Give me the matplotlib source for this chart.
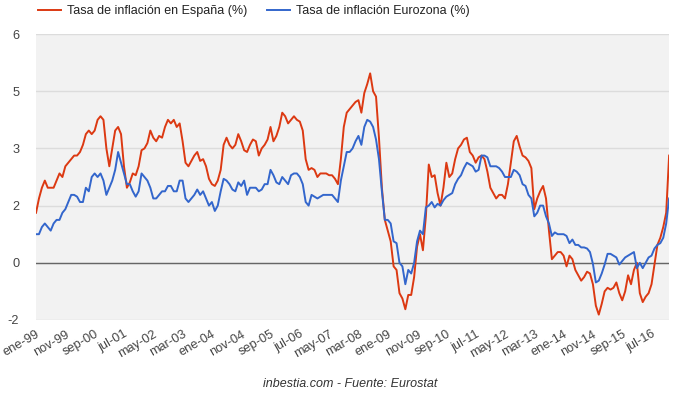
import numpy as np
import pandas as pd
import matplotlib
matplotlib.use('Agg')
import matplotlib.pyplot as plt

# monthly annual inflation rates (%), ene-99 .. ene-17
espana = (
    [1.4, 1.8, 2.1, 2.3, 2.1, 2.1, 2.1, 2.3, 2.5, 2.4, 2.7, 2.8] +       # 1999
    [2.9, 3.0, 3.0, 3.1, 3.3, 3.6, 3.7, 3.6, 3.7, 4.0, 4.1, 4.0] +       # 2000
    [3.2, 2.7, 3.2, 3.7, 3.8, 3.6, 2.7, 2.1, 2.25, 2.5, 2.45, 2.7] +     # 2001
    [3.15, 3.2, 3.35, 3.7, 3.5, 3.4, 3.55, 3.5, 3.8, 4.0, 3.9, 4.0] +    # 2002
    [3.8, 3.9, 3.4, 2.8, 2.7, 2.85, 3.0, 3.1, 2.85, 2.9, 2.7, 2.35] +    # 2003
    [2.2, 2.15, 2.3, 2.6, 3.3, 3.5, 3.3, 3.2, 3.3, 3.6, 3.4, 3.15] +     # 2004
    [3.1, 3.3, 3.45, 3.4, 3.0, 3.2, 3.3, 3.45, 3.8, 3.4, 3.55, 3.8] +    # 2005
    [4.2, 4.1, 3.9, 4.0, 4.1, 4.0, 3.95, 3.7, 2.9, 2.6, 2.65, 2.6] +     # 2006
    [2.4, 2.5, 2.5, 2.5, 2.45, 2.45, 2.35, 2.2, 2.9, 3.8, 4.2, 4.3] +    # 2007
    [4.4, 4.5, 4.55, 4.2, 4.75, 5.0, 5.3, 4.8, 4.65, 3.5, 2.1, 1.2] +    # 2008
    [0.9, 0.6, -0.1, -0.2, -0.85, -1.0, -1.3, -0.9, -0.9, -0.4, 0.45, 0.8] +  # 2009
    [0.35, 1.3, 2.75, 2.4, 2.45, 1.95, 1.6, 2.1, 2.8, 2.4, 2.5, 2.9] +   # 2010
    [3.2, 3.3, 3.45, 3.5, 3.1, 3.0, 2.8, 2.95, 3.0, 2.9, 2.55, 2.1] +    # 2011
    [1.95, 1.8, 1.9, 1.9, 1.8, 2.2, 2.8, 3.4, 3.55, 3.25, 3.0, 2.95] +   # 2012
    [2.85, 2.65, 1.5, 1.8, 2.0, 2.15, 1.8, 0.9, 0.1, 0.2, 0.3, 0.3] +    # 2013
    [0.2, -0.1, 0.2, 0.1, -0.2, -0.35, -0.5, -0.4, -0.25, -0.3, -0.6, -1.2] +  # 2014
    [-1.45, -1.15, -0.8, -0.7, -0.75, -0.7, -0.55, -0.85, -1.05, -0.8, -0.35, -0.6] +  # 2015
    [-0.2, 0.0, -0.85, -1.1, -0.95, -0.85, -0.6, -0.05, 0.5, 0.7, 1.0, 1.4] +  # 2016
    [3.0]                                                                # 2017
)

eurozona = (
    [0.8, 0.8, 1.0, 1.1, 1.0, 0.9, 1.1, 1.2, 1.2, 1.4, 1.5, 1.7] +
    [1.9, 1.9, 1.85, 1.7, 1.7, 2.1, 2.0, 2.4, 2.5, 2.4, 2.5, 2.3] +
    [1.9, 2.1, 2.3, 2.6, 3.1, 2.8, 2.5, 2.2, 2.2, 2.0, 1.85, 2.0] +
    [2.5, 2.4, 2.3, 2.1, 1.8, 1.8, 1.9, 2.0, 2.0, 2.15, 2.15, 2.0] +
    [2.0, 2.3, 2.3, 1.8, 1.7, 1.8, 1.9, 2.05, 1.9, 2.0, 1.8, 1.6] +
    [1.7, 1.45, 1.6, 2.0, 2.35, 2.3, 2.2, 2.05, 2.0, 2.25, 2.15, 2.3] +
    [1.9, 2.1, 2.1, 2.1, 2.0, 2.05, 2.2, 2.2, 2.6, 2.45, 2.25, 2.2] +
    [2.4, 2.3, 2.2, 2.45, 2.5, 2.5, 2.4, 2.2, 1.7, 1.6, 1.9, 1.85] +
    [1.8, 1.85, 1.9, 1.9, 1.9, 1.9, 1.8, 1.7, 2.3, 2.7, 3.1, 3.1] +
    [3.2, 3.4, 3.55, 3.3, 3.8, 4.0, 3.95, 3.8, 3.45, 2.9, 2.0, 1.2] +
    [1.2, 1.1, 0.6, 0.55, 0.0, -0.1, -0.6, -0.2, -0.3, 0.0, 0.6, 0.9] +
    [0.8, 1.55, 1.6, 1.7, 1.55, 1.65, 1.6, 1.75, 1.85, 1.9, 1.95, 2.2] +
    [2.35, 2.45, 2.65, 2.8, 2.75, 2.7, 2.55, 2.6, 3.0, 3.0, 2.95, 2.7] +
    [2.7, 2.7, 2.65, 2.55, 2.4, 2.4, 2.4, 2.6, 2.55, 2.45, 2.2, 2.15] +
    [1.9, 1.8, 1.3, 1.4, 1.6, 1.6, 1.3, 1.1, 0.75, 0.85, 0.8, 0.8] +
    [0.8, 0.75, 0.55, 0.65, 0.5, 0.5, 0.43, 0.43, 0.4, 0.3, -0.03, -0.55] +
    [-0.5, -0.3, -0.05, 0.25, 0.25, 0.2, 0.15, -0.05, 0.05, 0.15, 0.2, 0.25] +
    [0.3, -0.15, 0.0, -0.15, 0.0, 0.15, 0.2, 0.4, 0.5, 0.55, 0.7, 1.1] +
    [1.8]
)

meses = ['ene', 'feb', 'mar', 'abr', 'may', 'jun',
         'jul', 'ago', 'sep', 'oct', 'nov', 'dic']
fechas = pd.date_range('1999-01-01', periods=len(espana), freq='MS')
etiquetas = ['%s-%02d' % (meses[d.month - 1], d.year % 100) for d in fechas]

# gridlines sit every 1.6 points, labels shown rounded
y_ticks = [-1.6, 0, 1.6, 3.2, 4.8, 6.4]
y_labels = ['-2', '0', '2', '3', '5', '6']

plt.rcParams['font.family'] = ['Liberation Sans', 'DejaVu Sans']

fig = plt.figure(figsize=(6.8, 3.96), dpi=100)
ax = fig.add_axes([0.053, 0.192, 0.931, 0.722])
ax.set_facecolor('#f2f2f2')

x = np.arange(len(espana))
ax.plot(x, espana, color='#dc3912', lw=1.4, label='Tasa de inflación en España (%)', zorder=3)
ax.plot(x, eurozona, color='#3366cc', lw=1.4, label='Tasa de inflación Eurozona (%)', zorder=3)
ax.axhline(0, color='#666666', lw=1, zorder=2)

ax.set_xlim(0, len(espana) - 1)
ax.set_ylim(-1.6, 6.4)
ax.set_yticks(y_ticks)
ax.set_yticklabels(y_labels)
ax.grid(axis='y', color='#dcdcdc', lw=1)
ax.set_axisbelow(True)

xt = x[::10][:22]
ax.set_xticks(xt)
ax.set_xticklabels([etiquetas[i] for i in xt], rotation=30, ha='right',
                   rotation_mode='anchor')
ax.tick_params(axis='both', length=0, labelsize=9.2, colors='#444444')
ax.tick_params(axis='y', pad=12)
ax.tick_params(axis='x', pad=6)
for s in ax.spines.values():
    s.set_visible(False)

fig.legend(loc='upper left', bbox_to_anchor=(0.04, 1.015), ncol=2, frameon=False,
           fontsize=9, handlelength=1.8, handletextpad=0.5, columnspacing=1.6,
           labelcolor='#222222')

fig.text(0.515, 0.022, 'inbestia.com - Fuente: Eurostat', ha='center',
         style='italic', fontsize=9, color='#333333')

plt.savefig('out.png', dpi=100)
